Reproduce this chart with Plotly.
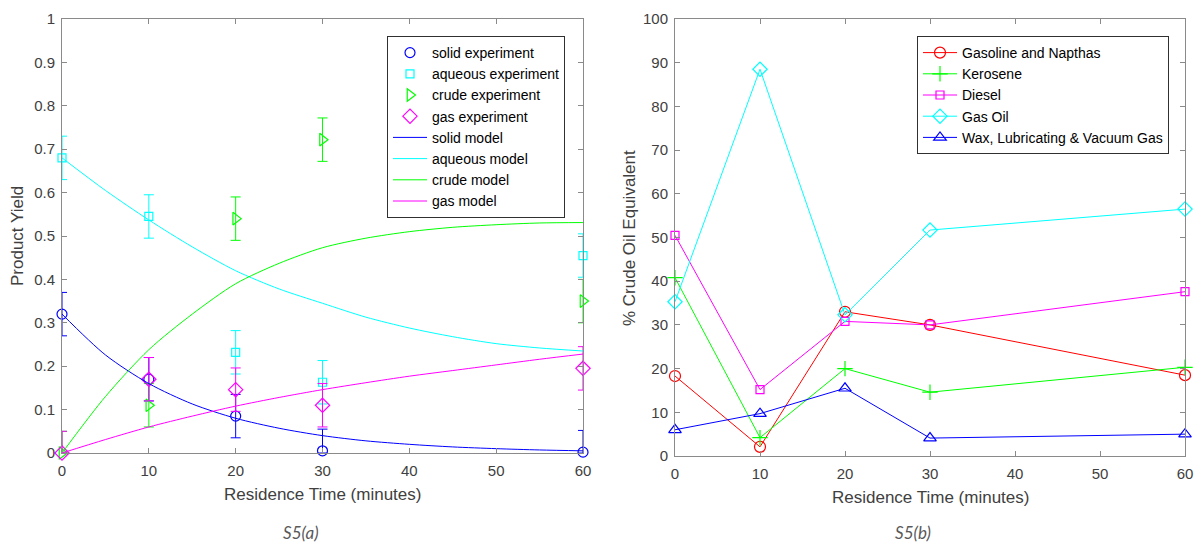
import plotly.graph_objects as go

W, H = 1195, 547

# ---------- panel (a): product yields ----------
t_exp = [0, 10, 20, 30, 60]
solid_exp = [0.32, 0.17, 0.085, 0.005, 0.002]
aqueous_exp = [0.68, 0.545, 0.232, 0.163, 0.455]
crude_exp = [0.0, 0.11, 0.54, 0.722, 0.35]
gas_exp = [0.0, 0.17, 0.146, 0.11, 0.195]
exp_err = [0.05, 0.05, 0.05, 0.05, 0.05]

t_model = [0, 5, 10, 15, 20, 25, 30, 35, 40, 45, 50, 55, 60]
solid_model = [0.32, 0.226, 0.16, 0.113, 0.08, 0.057, 0.04, 0.028, 0.02, 0.014, 0.01, 0.007, 0.005]
aqueous_model = [0.68, 0.605, 0.537, 0.475, 0.42, 0.378, 0.345, 0.313, 0.288, 0.268, 0.252, 0.242, 0.235]
crude_model = [0.0, 0.13, 0.238, 0.32, 0.39, 0.437, 0.473, 0.495, 0.51, 0.52, 0.526, 0.53, 0.531]
gas_model = [0.0, 0.031, 0.06, 0.085, 0.108, 0.128, 0.146, 0.162, 0.177, 0.19, 0.203, 0.216, 0.228]

# ---------- panel (b): crude oil fractions ----------
t_frac = [0, 10, 20, 30, 60]
gasoline = [18.3, 2.1, 33.0, 30.0, 18.5]
kerosene = [40.8, 4.2, 20.0, 14.6, 20.3]
diesel = [50.5, 15.2, 30.8, 30.0, 37.6]
gas_oil = [35.3, 88.5, 32.3, 51.7, 56.5]
wax = [6.0, 9.7, 15.5, 4.1, 5.0]

BLUE, CYAN, GREEN, MAGENTA, RED = "#0000ff", "#00ffff", "#00ff00", "#ff00ff", "#ff0000"
FONT = "Liberation Sans, Arial, sans-serif"
AXIS_GREY = "#8a8a8a"
TEXT_GREY = "#404040"


def px_x(p):
    return p / W


def px_y(p):
    return 1 - p / H


def lower_err(vals, errs):
    # error bars stop at the zero line
    return [min(e, v) for v, e in zip(vals, errs)]


fig = go.Figure()

exp_series = [
    ("solid experiment", solid_exp, BLUE, "circle-open", 10),
    ("aqueous experiment", aqueous_exp, CYAN, "square-open", 8),
    ("crude experiment", crude_exp, GREEN, "triangle-right-open", 11),
    ("gas experiment", gas_exp, MAGENTA, "diamond-open", 11),
]
for name, vals, col, sym, size in exp_series:
    fig.add_trace(go.Scatter(
        x=t_exp, y=vals, name=name, mode="markers",
        marker=dict(symbol=sym, size=size, color=col, line=dict(width=1.2, color=col)),
        error_y=dict(type="data", symmetric=False, array=exp_err,
                     arrayminus=lower_err(vals, exp_err),
                     color=col, thickness=1, width=5),
        cliponaxis=False, xaxis="x", yaxis="y", legend="legend",
    ))

model_series = [
    ("solid model", solid_model, BLUE),
    ("aqueous model", aqueous_model, CYAN),
    ("crude model", crude_model, GREEN),
    ("gas model", gas_model, MAGENTA),
]
for name, vals, col in model_series:
    fig.add_trace(go.Scatter(
        x=t_model, y=vals, name=name, mode="lines",
        line=dict(color=col, width=1, shape="spline", smoothing=0.8),
        xaxis="x", yaxis="y", legend="legend",
    ))

frac_series = [
    ("Gasoline and Napthas", gasoline, RED, "circle-open", 11),
    ("Kerosene", kerosene, GREEN, "cross-thin-open", 11),
    ("Diesel", diesel, MAGENTA, "square-open", 8),
    ("Gas Oil", gas_oil, CYAN, "diamond-open", 11),
    ("Wax, Lubricating & Vacuum Gas", wax, BLUE, "triangle-up-open", 11),
]
for name, vals, col, sym, size in frac_series:
    fig.add_trace(go.Scatter(
        x=t_frac, y=vals, name=name, mode="lines+markers",
        line=dict(color=col, width=1),
        marker=dict(symbol=sym, size=size, color=col, line=dict(width=1.2, color=col)),
        cliponaxis=False, xaxis="x2", yaxis="y2", legend="legend2",
    ))

axis_common = dict(
    showgrid=False, zeroline=False, showline=True, linecolor=AXIS_GREY, linewidth=1,
    mirror="ticks", ticks="inside", ticklen=5, tickcolor=AXIS_GREY, automargin=False,
    tickfont=dict(family=FONT, size=15, color=TEXT_GREY),
)
x_common = dict(ticklabelstandoff=4, **axis_common)
y_common = dict(ticklabelstandoff=3, **axis_common)

legend_common = dict(
    bgcolor="white", bordercolor="#303030", borderwidth=1,
    font=dict(family=FONT, size=14, color="#000000"),
    xanchor="left", yanchor="top", tracegroupgap=0, itemwidth=34,
)

fig.update_layout(
    width=W, height=H, margin=dict(l=0, r=0, t=0, b=0, autoexpand=False),
    paper_bgcolor="white", plot_bgcolor="white",
    xaxis=dict(domain=[px_x(62), px_x(583)], range=[0, 60], tickvals=[0, 10, 20, 30, 40, 50, 60],
               anchor="y", **x_common),
    yaxis=dict(domain=[px_y(453), px_y(19)], range=[0, 1],
               tickvals=[i / 10 for i in range(11)],
               ticktext=["0", "0.1", "0.2", "0.3", "0.4", "0.5", "0.6", "0.7", "0.8", "0.9", "1"],
               anchor="x", **y_common),
    xaxis2=dict(domain=[px_x(675), px_x(1185)], range=[0, 60], tickvals=[0, 10, 20, 30, 40, 50, 60],
                anchor="y2", **x_common),
    yaxis2=dict(domain=[px_y(456), px_y(19)], range=[0, 100], tickvals=list(range(0, 101, 10)),
                anchor="x2", **y_common),
    legend=dict(x=px_x(387), y=px_y(36), **legend_common),
    legend2=dict(x=px_x(917), y=px_y(36), **legend_common),
)

label_font = dict(family=FONT, size=17, color=TEXT_GREY)
caption_font = dict(family="Lato, Open Sans, sans-serif", size=17, color="#595959")
annotations = [
    dict(text="Residence Time (minutes)", x=px_x(322), y=px_y(494), font=label_font),
    dict(text="Residence Time (minutes)", x=px_x(930), y=px_y(497), font=label_font),
    dict(text="Product Yield", x=px_x(17), y=px_y(236), textangle=-90, font=label_font),
    dict(text="% Crude Oil Equivalent", x=px_x(629), y=px_y(238), textangle=-90, font=label_font),
    dict(text="<i>S5(a)</i>", x=px_x(301), y=px_y(532), font=caption_font),
    dict(text="<i>S5(b)</i>", x=px_x(913), y=px_y(532), font=caption_font),
]
for a in annotations:
    fig.add_annotation(xref="paper", yref="paper", showarrow=False,
                       xanchor="center", yanchor="middle", **a)

fig.write_html("out.html")
